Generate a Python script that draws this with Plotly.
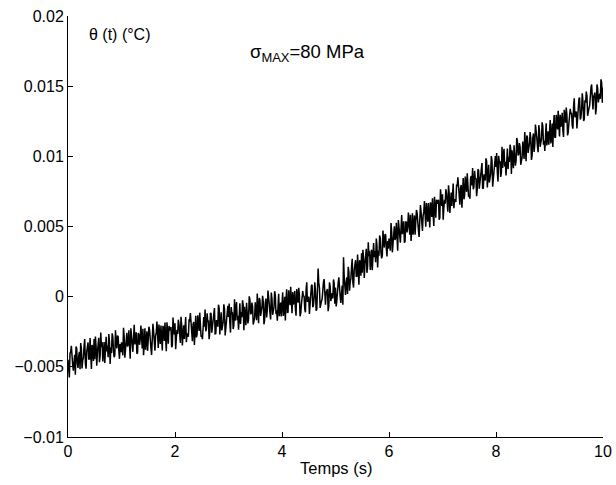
import numpy as np
import plotly.graph_objects as go

# theta(t) values in units of 1e-5 °C, sampled every 0.0125 s from 0 to 10 s (one row = 0.5 s)
theta_1e5 = [
    -450, -563, -575, -404, -392, -350, -477, -485, -528, -431, -414, -557, -355, -368, -480, -508, -426, -394, -517, -330, -373, -511, -453, -436, -354, -302, -475, -513, -391, -354, -326, -444, -447, -295, -408, -516, -344, -362, -459, -302,
    -445, -284, -353, -492, -395, -354, -293, -467, -426, -255, -359, -323, -461, -405, -324, -473, -307, -286, -390, -349, -432, -266, -320, -479, -363, -402, -261, -285, -388, -432, -416, -240, -324, -368, -277, -286, -384, -443, -337, -396,
    -325, -379, -418, -222, -286, -435, -369, -268, -257, -356, -340, -239, -388, -442, -226, -290, -369, -393, -292, -201, -340, -299, -253, -407, -401, -260, -269, -343, -302, -206, -360, -369, -228, -417, -336, -225, -379, -293, -247, -386,
    -325, -214, -238, -342, -366, -415, -274, -193, -247, -356, -385, -279, -253, -177, -301, -365, -199, -303, -337, -206, -275, -384, -208, -232, -316, -185, -294, -388, -182, -306, -335, -209, -238, -242, -216, -360, -349, -148, -237, -271,
    -190, -374, -293, -237, -265, -164, -197, -311, -330, -144, -208, -347, -230, -204, -302, -146, -145, -324, -263, -277, -285, -169, -172, -116, -210, -299, -318, -197, -180, -344, -227, -136, -290, -269, -133, -212, -245, -114, -202, -286,
    -280, -303, -157, -145, -214, -92, -246, -229, -118, -176, -175, -303, -252, -115, -124, -257, -216, -144, -128, -81, -265, -263, -167, -190, -214, -57, -81, -269, -133, -111, -240, -203, -182, -55, -89, -277, -211, -124, -113, -66,
    -145, -49, -187, -256, -74, -118, -117, -231, -204, -18, -171, -85, -39, -168, -136, -235, -88, -47, -195, -109, -147, -26, -60, -239, -72, -161, -204, -43, -96, -190, -159, 2, -21, -125, -118, -42, -70, -199, -158, -152,
    -40, -134, -168, 23, -121, -190, -9, -23, -137, -111, -75, 6, -38, -197, -166, -45, -14, -148, -97, 44, -45, -54, -118, -162, 29, -15, -129, -98, -77, 39, 10, -124, -98, -172, -11, 20, -139, -48, -42, -141,
    -30, 31, -138, -97, 0, -169, -18, 53, -111, -110, 46, -33, -61, 70, -79, -118, 33, -56, -30, 41, -87, -136, 55, 16, -43, 63, 9, -140, -118, -57, 24, 40, 1, 7, -87, -111, 46, 102, -37, -21,
    0, -124, -38, 13, 79, 85, -75, -64, -8, 103, 44, -100, -90, 41, 200, 98, 64, -80, -44, -33, -17, 74, 104, 125, -49, -58, 28, 44, 55, -104, -64, 102, 73, -31, 10, 26, -13, 123, 93, -51,
    65, -69, -29, 87, 97, 138, 9, 0, -45, 58, 80, -57, 280, 143, 35, 13, 100, 138, 20, 213, 175, 43, 105, 128, 215, 270, 100, 65, 190, 230, 260, 145, 145, 300, 190, 85, 260, 245, 150, 310,
    170, 334, 269, 133, 232, 276, 341, 170, 214, 388, 288, 327, 191, 250, 335, 189, 358, 382, 282, 326, 245, 414, 364, 208, 327, 291, 436, 415, 314, 273, 293, 472, 391, 350, 445, 439, 343, 287, 397, 341,
    415, 363, 327, 525, 463, 316, 385, 488, 501, 404, 423, 526, 379, 327, 546, 484, 407, 385, 489, 582, 445, 488, 537, 385, 393, 536, 530, 458, 501, 599, 448, 441, 584, 397, 481, 594, 442, 530, 579, 442,
    505, 618, 597, 495, 473, 426, 570, 653, 601, 494, 468, 576, 604, 682, 561, 499, 667, 565, 534, 667, 600, 493, 672, 650, 568, 701, 595, 503, 711, 589, 563, 691, 664, 662, 691, 549, 562, 765, 679, 647,
    730, 548, 632, 690, 663, 766, 735, 623, 606, 794, 733, 596, 714, 742, 646, 804, 807, 630, 694, 682, 675, 793, 792, 850, 758, 671, 655, 778, 796, 634, 753, 846, 694, 717, 856, 779, 747, 880, 794, 712,
    720, 698, 847, 860, 793, 916, 765, 783, 896, 839, 843, 716, 769, 907, 901, 769, 812, 885, 904, 952, 770, 773, 872, 850, 828, 986, 965, 778, 916, 939, 813, 851, 874, 1002, 971, 784, 852, 940, 954, 1002,
    925, 1023, 887, 820, 1003, 961, 965, 853, 881, 1069, 918, 1006, 1054, 927, 961, 864, 1012, 1055, 909, 997, 960, 1083, 1052, 875, 1043, 956, 915, 1078, 1026, 934, 968, 1131, 1109, 1007, 1016, 1094, 1067, 940, 984, 992,
    1105, 1013, 981, 1174, 1032, 965, 1148, 1136, 1024, 1052, 1090, 1173, 1131, 974, 1007, 1130, 1163, 1031, 1084, 1227, 1140, 1133, 1071, 1029, 1222, 1180, 1068, 1101, 1124, 1242, 1215, 1083, 1111, 1039, 1202, 1235, 1078, 1171, 1179, 1082,
    1195, 1258, 1092, 1135, 1234, 1067, 1221, 1294, 1133, 1136, 1295, 1218, 1192, 1325, 1179, 1142, 1296, 1209, 1238, 1311, 1185, 1138, 1332, 1295, 1239, 1347, 1296, 1149, 1173, 1236, 1320, 1338, 1302, 1310, 1219, 1197, 1356, 1414, 1278, 1296,
    1320, 1199, 1288, 1342, 1410, 1419, 1263, 1277, 1335, 1449, 1393, 1252, 1265, 1399, 1383, 1462, 1430, 1289, 1328, 1342, 1360, 1454, 1488, 1512, 1340, 1334, 1423, 1442, 1455, 1299, 1343, 1512, 1485, 1384, 1428, 1447, 1410, 1549, 1523, 1382,
    1490,
]

t_start, t_end = 0.0, 10.0
x_ticks = [0, 2, 4, 6, 8, 10]
y_ticks = [-0.01, -0.005, 0, 0.005, 0.01, 0.015, 0.02]
y_ticklabels = ["\u22120.01", "\u22120.005", "0", "0.005", "0.01", "0.015", "0.02"]

theta = [v * 1e-5 for v in theta_1e5]
t = np.linspace(t_start, t_end, len(theta))

FONT = "Liberation Sans, Arial, Helvetica, sans-serif"

fig = go.Figure()
fig.add_trace(go.Scatter(x=t, y=theta, mode="lines",
                         line=dict(color="black", width=1.5), showlegend=False,
                         hoverinfo="skip"))

fig.update_layout(
    width=616, height=485,
    margin=dict(l=68, r=13, t=16, b=48, autoexpand=False),
    paper_bgcolor="white", plot_bgcolor="white",
    font=dict(family=FONT, size=16, color="black"),
)
fig.update_xaxes(range=[0, 10], tickvals=x_ticks, ticks="inside", ticklen=5,
                 showline=True, linecolor="black", linewidth=1, showgrid=False,
                 zeroline=False, mirror=False, tickcolor="black", automargin=False,
                 tickfont=dict(size=16))
fig.update_yaxes(range=[-0.01, 0.02], tickvals=y_ticks, ticktext=y_ticklabels,
                 ticks="inside", ticklen=5, showline=True, linecolor="black",
                 linewidth=1, showgrid=False, zeroline=False, mirror=False,
                 tickcolor="black", automargin=False, tickfont=dict(size=16))

fig.add_annotation(x=5.0, y=-0.074, xref="x", yref="paper", text="Temps (s)",
                   showarrow=False, font=dict(size=16.5), xanchor="center", yanchor="middle")
fig.add_annotation(x=0.98, y=0.0187, xref="x", yref="y", text="\u03b8 (t) (\u00b0C)",
                   showarrow=False, font=dict(size=16), xanchor="center", yanchor="middle")
fig.add_annotation(x=4.48, y=0.01735, xref="x", yref="y",
                   text="\u03c3<sub>MAX</sub>=80 MPa",
                   showarrow=False, font=dict(size=18.5), xanchor="center", yanchor="middle")

fig.write_html("out.html", config={"displayModeBar": False},
               post_script="document.body.style.margin='0';")
